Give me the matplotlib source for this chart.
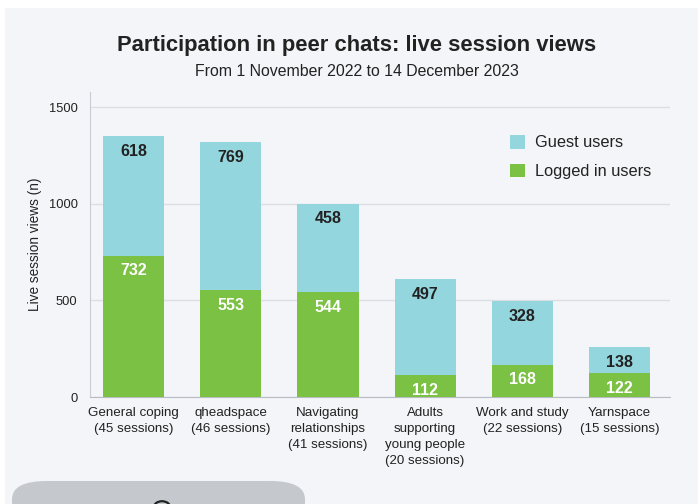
import matplotlib
matplotlib.use("Agg")
import matplotlib.pyplot as plt
from matplotlib.patches import FancyBboxPatch, Rectangle, Circle
import numpy as np

plt.rcParams['font.family'] = ['Liberation Sans', 'DejaVu Sans']

categories = ["General coping\n(45 sessions)", "qheadspace\n(46 sessions)",
              "Navigating\nrelationships\n(41 sessions)",
              "Adults\nsupporting\nyoung people\n(20 sessions)",
              "Work and study\n(22 sessions)", "Yarnspace\n(15 sessions)"]
logged_in = [732, 553, 544, 112, 168, 122]
guest = [618, 769, 458, 497, 328, 138]
yticks = [0, 500, 1000, 1500]

bg = "#f4f5f9"
c_guest = "#94d6dd"
c_logged = "#7bc143"

fig = plt.figure(figsize=(6.98, 5.04), dpi=100)
fig.patch.set_facecolor("white")
# panel background
fig.add_artist(Rectangle((5/698, 0), 1, 1 - 8/504, transform=fig.transFigure,
                         facecolor=bg, edgecolor="none", zorder=-10))
# bottom gray rounded button
fig.add_artist(FancyBboxPatch((12/698, -40/504), 293/698, 63/504,
                              boxstyle="round,pad=0,rounding_size=0.05",
                              transform=fig.transFigure, facecolor="#c5c8cd",
                              edgecolor="none", zorder=-5, mutation_aspect=504/698))
fig.add_artist(Circle((162/698, -3/504), 8/698, transform=fig.transFigure,
                      facecolor="none", edgecolor="#222222", linewidth=1.6, zorder=-4))

ax = fig.add_axes([90/698, 1 - 397/504, 580/698, (397 - 92)/504])
ax.set_facecolor(bg)

x = np.arange(len(categories))
w = 0.63
b1 = ax.bar(x, logged_in, w, color=c_logged, label="Logged in users", zorder=3)
b2 = ax.bar(x, guest, w, bottom=logged_in, color=c_guest, label="Guest users", zorder=3)

for i in range(len(x)):
    ax.annotate(str(logged_in[i]), (x[i], logged_in[i]), xytext=(0, -11),
                textcoords="offset points", ha="center", va="center",
                color="white", fontsize=11.5, fontweight="bold", zorder=5)
    top = logged_in[i] + guest[i]
    ax.annotate(str(guest[i]), (x[i], top), xytext=(0, -11),
                textcoords="offset points", ha="center", va="center",
                color="#222222", fontsize=11.5, fontweight="bold", zorder=5)

ax.set_xlim(-0.45, 5.52)
ax.set_ylim(0, 1580)
ax.set_yticks(yticks)
ax.set_xticks(x)
ax.set_xticklabels(categories, fontsize=9.6, color="#222222", linespacing=1.45)
ax.tick_params(axis="y", labelsize=9.3, colors="#222222", length=0, pad=9)
ax.tick_params(axis="x", length=0, pad=7)
ax.grid(axis="y", color="#dcdee4", linewidth=1, zorder=0)
for s in ["top", "right"]:
    ax.spines[s].set_visible(False)
ax.spines["left"].set_color("#c9ccd2")
ax.spines["bottom"].set_color("#b9bcc3")
ax.set_ylabel("Live session views (n)", fontsize=9.8, color="#222222", labelpad=5)

handles = [b2, b1]
leg = ax.legend(handles, ["Guest users", "Logged in users"], loc="upper left",
                bbox_to_anchor=(420/580, 1 - 43/305), frameon=False, fontsize=11.8,
                handlelength=0.9, handleheight=0.9, handletextpad=0.6,
                labelspacing=0.8, labelcolor="#222222", borderpad=0, borderaxespad=0)

fig.text(357/698, 1 - 45/504, "Participation in peer chats: live session views",
         ha="center", va="center", fontsize=15.8, fontweight="bold", color="#222222")
fig.text(357/698, 1 - 72/504, "From 1 November 2022 to 14 December 2023",
         ha="center", va="center", fontsize=11.4, color="#222222")

fig.savefig("out.png", dpi=100, facecolor=fig.get_facecolor())
